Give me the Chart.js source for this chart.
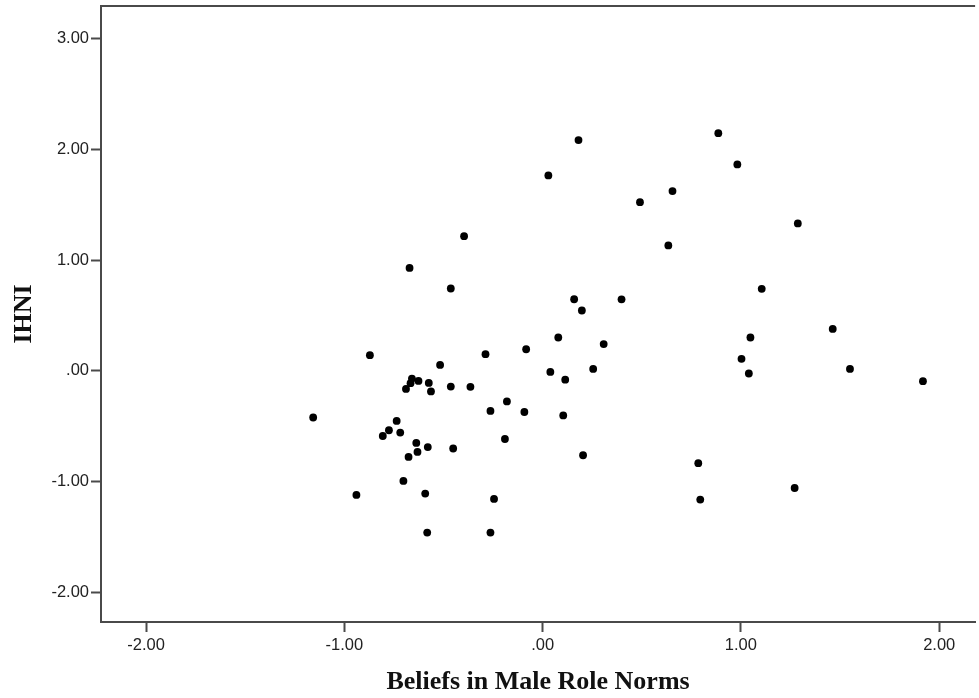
<!DOCTYPE html>
<html>
<head>
<meta charset="utf-8">
<script src="https://cdn.jsdelivr.net/npm/chart.js@4/dist/chart.umd.min.js"></script>
<style>
  html, body { margin: 0; padding: 0; background: #ffffff; }
  #wrap { width: 979px; height: 698px; position: relative; }
</style>
</head>
<body>
<div id="wrap"><canvas id="c" width="979" height="698"></canvas></div>
<script>
// Beliefs in Male Role Norms (x) vs IHNI (y)
const beliefs = [
  -1.157, -0.939, -0.871, -0.806, -0.775, -0.736, -0.718, -0.702, -0.676, -0.671,
  -0.689, -0.659, -0.666, -0.626, -0.637, -0.631, -0.592, -0.582, -0.579, -0.574,
  -0.563, -0.517, -0.463, -0.463, -0.451, -0.396, -0.364, -0.288, -0.263, -0.263,
  -0.245, -0.180, -0.190, -0.092, -0.083, 0.029, 0.039, 0.079, 0.104, 0.114,
  0.159, 0.181, 0.198, 0.204, 0.255, 0.308, 0.398, 0.491, 0.655, 0.634,
  0.886, 0.982, 0.785, 0.795, 1.003, 1.040, 1.048, 1.105, 1.271, 1.287,
  1.463, 1.550, 1.918
];
const ihni = [
  -0.423, -1.123, 0.140, -0.590, -0.538, -0.454, -0.559, -0.996, -0.779, 0.929,
  -0.165, -0.071, -0.113, -0.092, -0.653, -0.734, -1.110, -1.463, -0.690, -0.110,
  -0.187, 0.052, -0.143, 0.743, -0.703, 1.216, -0.146, 0.149, -0.363, -1.463,
  -1.159, -0.278, -0.617, -0.373, 0.194, 1.765, -0.011, 0.300, -0.404, -0.081,
  0.646, 2.084, 0.544, -0.764, 0.016, 0.241, 0.645, 1.523, 1.623, 1.132,
  2.147, 1.864, -0.836, -1.165, 0.107, -0.025, 0.300, 0.740, -1.060, 1.331,
  0.378, 0.016, -0.095
];
const xTickValues = [-2, -1, 0, 1, 2];
const yTickValues = [-2, -1, 0, 1, 2, 3];
const xTitle = 'Beliefs in Male Role Norms';
const yTitle = 'IHNI';

function fmt(v) {
  if (Math.abs(v) < 1e-9) return '.00';
  return v.toFixed(2);
}

const points = beliefs.map((b, i) => ({ x: b, y: ihni[i] }));

const frameColor = '#4a4a4a';

const topBorder = {
  id: 'topBorder',
  afterDraw(chart) {
    const { ctx, chartArea } = chart;
    ctx.save();
    ctx.strokeStyle = frameColor;
    ctx.lineWidth = 2;
    ctx.beginPath();
    ctx.moveTo(chartArea.left, chartArea.top);
    ctx.lineTo(chartArea.right, chartArea.top);
    ctx.stroke();
    ctx.restore();
  }
};

new Chart(document.getElementById('c'), {
  type: 'scatter',
  data: {
    datasets: [{
      data: points,
      backgroundColor: '#000000',
      borderColor: '#000000',
      borderWidth: 0,
      pointRadius: 3.9,
      pointHoverRadius: 3.9
    }]
  },
  options: {
    responsive: false,
    animation: false,
    events: [],
    layout: { padding: { top: 6, left: 0, right: 0, bottom: 0 } },
    plugins: {
      legend: { display: false },
      tooltip: { enabled: false },
      title: { display: false }
    },
    scales: {
      x: {
        type: 'linear',
        min: -2.227,
        max: 2.181,
        afterBuildTicks(scale) { scale.ticks = xTickValues.map(v => ({ value: v })); },
        afterFit(scale) { scale.height = 76; scale.paddingLeft = 0; scale.paddingRight = 0; },
        ticks: {
          callback: (v) => fmt(v),
          color: '#222222',
          font: { family: '"Liberation Sans", Arial, sans-serif', size: 16.5 },
          padding: 4,
          maxRotation: 0,
          autoSkip: false
        },
        grid: {
          display: true,
          drawOnChartArea: false,
          drawTicks: true,
          tickLength: 10,
          tickColor: frameColor,
          tickWidth: 2
        },
        border: { display: true, color: frameColor, width: 2 },
        title: {
          display: true,
          text: xTitle,
          color: '#111111',
          font: { family: '"Liberation Serif", "Times New Roman", serif', size: 26, weight: 'bold' },
          padding: { top: 0, bottom: 0 }
        }
      },
      y: {
        type: 'linear',
        min: -2.271,
        max: 3.296,
        afterBuildTicks(scale) { scale.ticks = yTickValues.map(v => ({ value: v })); },
        afterFit(scale) { scale.width = 101; scale.paddingTop = 0; scale.paddingBottom = 0; },
        ticks: {
          callback: (v) => fmt(v),
          color: '#222222',
          font: { family: '"Liberation Sans", Arial, sans-serif', size: 16.5 },
          padding: 2,
          autoSkip: false
        },
        grid: {
          display: true,
          drawOnChartArea: false,
          drawTicks: true,
          tickLength: 10,
          tickColor: frameColor,
          tickWidth: 2
        },
        border: { display: true, color: frameColor, width: 2 },
        title: {
          display: true,
          text: yTitle,
          color: '#111111',
          font: { family: '"Liberation Serif", "Times New Roman", serif', size: 26, weight: 'bold' },
          padding: { top: 9, bottom: 0 }
        }
      }
    }
  },
  plugins: [topBorder]
});
</script>
</body>
</html>
